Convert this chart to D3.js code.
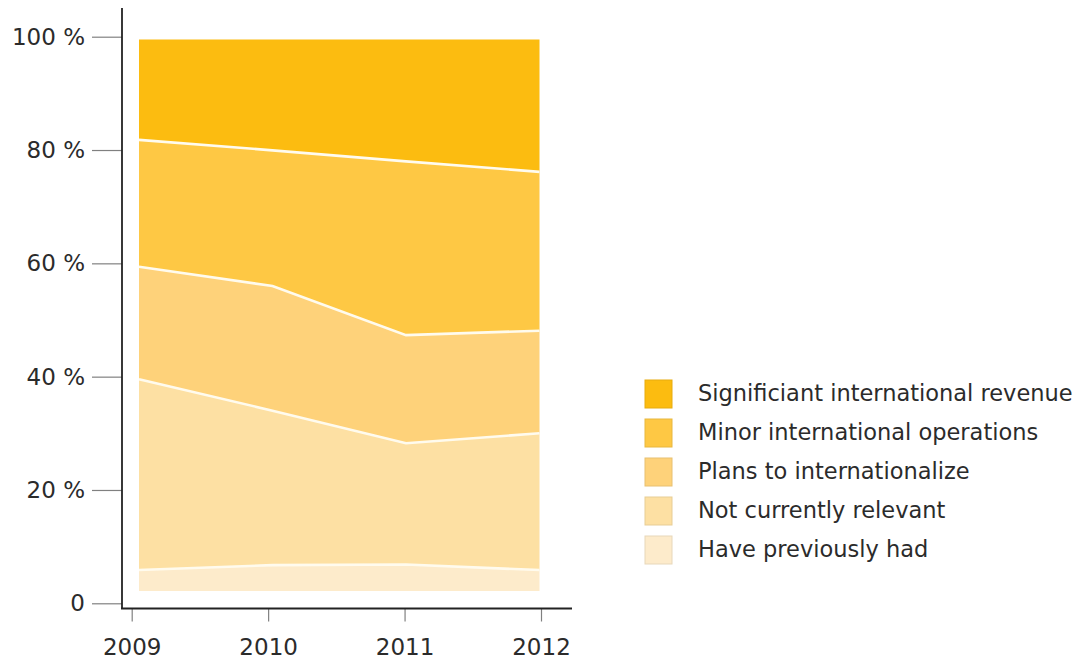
<!DOCTYPE html>
<html>
<head>
<meta charset="utf-8">
<script src="https://cdn.jsdelivr.net/npm/d3@7"></script>
<style>
  html, body { margin: 0; padding: 0; background: #ffffff; }
  svg { display: block; }
  text { font-family: "DejaVu Sans", Verdana, sans-serif; fill: #2b2b2b; }
</style>
</head>
<body>
<svg id="chart" width="1092" height="668"></svg>
<script>
// Years on the x axis
const years = [2009, 2010, 2011, 2012];

// Share of companies (%) per category, per year
const significant = [18.2, 20.1, 22.1, 24.0];
const minorOps    = [23.0, 24.6, 31.5, 28.8];
const plans       = [20.4, 22.6, 19.6, 18.6];
const notRelevant = [34.6, 28.0, 22.0, 24.8];
const previously  = [3.8, 4.7, 4.8, 3.8];

// Series names (bottom to top of the stack)
const seriesNames = [
  "Have previously had",
  "Not currently relevant",
  "Plans to internationalize",
  "Minor international operations",
  "Significiant international revenue"
];
const seriesColors = ["#fdebcb", "#fde0a3", "#fed27a", "#fec844", "#fcbc10"];

// Y axis ticks
const yTicks = [0, 20, 40, 60, 80, 100];

const seriesValues = [previously, notRelevant, plans, minorOps, significant];
const rows = years.map((y, i) => {
  const r = { year: y };
  seriesNames.forEach((n, k) => { r[n] = seriesValues[k][i]; });
  return r;
});

const svg = d3.select("#chart");

// Axis scales
const xAxisScale = d3.scaleLinear().domain([2009, 2012]).range([131.7, 541]);
const yAxisScale = d3.scaleLinear().domain([0, 100]).range([603.3, 36.7]);

// The plot area sits slightly inset from the axes
const xArea = d3.scaleLinear().domain([2009, 2012]).range([139, 539.5]);
const yArea = d3.scaleLinear().domain([0, 100]).range([591, 39.5]);

const stack = d3.stack().keys(seriesNames);
const layers = stack(rows);

const area = d3.area()
  .x(d => xArea(d.data.year))
  .y0(d => yArea(d[0]))
  .y1(d => yArea(d[1]));

const topLine = d3.line()
  .x(d => xArea(d.data.year))
  .y(d => yArea(d[1]));

const plot = svg.append("g");
plot.selectAll("path.layer")
  .data(layers)
  .join("path")
  .attr("class", "layer")
  .attr("d", area)
  .attr("fill", (d, i) => seriesColors[i]);

// White separators between the layers
plot.selectAll("path.sep")
  .data(layers.slice(0, layers.length - 1))
  .join("path")
  .attr("class", "sep")
  .attr("d", topLine)
  .attr("fill", "none")
  .attr("stroke", "#fffbee")
  .attr("stroke-width", 2.6);

const labelFont = "'DejaVu Sans', Verdana, sans-serif";

// Y axis
const yAxis = d3.axisLeft(yAxisScale)
  .tickValues(yTicks)
  .tickSize(30)
  .tickPadding(7)
  .tickFormat(d => d === 0 ? "0" : d + " %");
const gy = svg.append("g").attr("transform", "translate(122,0)").call(yAxis);
gy.select(".domain").remove();
gy.selectAll(".tick line").attr("stroke", "#808080").attr("stroke-width", 1.2);
gy.selectAll(".tick text")
  .style("font-family", labelFont)
  .style("font-size", "23px")
  .attr("fill", "#2b2b2b");

// X axis
const xAxis = d3.axisBottom(xAxisScale)
  .tickValues(years)
  .tickSize(13)
  .tickPadding(17)
  .tickFormat(d3.format("d"));
const gx = svg.append("g").attr("transform", "translate(0,608.5)").call(xAxis);
gx.select(".domain").remove();
gx.selectAll(".tick line").attr("stroke", "#808080").attr("stroke-width", 1.2);
gx.selectAll(".tick text")
  .style("font-family", labelFont)
  .style("font-size", "23px")
  .attr("fill", "#2b2b2b");

// Axis lines
svg.append("line")
  .attr("x1", 122).attr("x2", 122).attr("y1", 8).attr("y2", 609)
  .attr("stroke", "#222").attr("stroke-width", 1.8);
svg.append("line")
  .attr("x1", 121).attr("x2", 572).attr("y1", 608.5).attr("y2", 608.5)
  .attr("stroke", "#222").attr("stroke-width", 1.8);

// Legend (top entry is the top layer)
const legendNames = seriesNames.slice().reverse();
const legendColors = seriesColors.slice().reverse();
const legend = svg.append("g").attr("transform", "translate(645,380)");
const item = legend.selectAll("g.item")
  .data(legendNames)
  .join("g")
  .attr("class", "item")
  .attr("transform", (d, i) => `translate(0,${i * 39})`);
item.append("rect")
  .attr("width", 27).attr("height", 28)
  .attr("fill", (d, i) => legendColors[i])
  .attr("stroke", (d, i) => d3.color(legendColors[i]).darker(0.25))
  .attr("stroke-width", 1);
item.append("text")
  .attr("x", 53).attr("y", 21)
  .style("font-size", "22.5px")
  .text(d => d);
</script>
</body>
</html>
